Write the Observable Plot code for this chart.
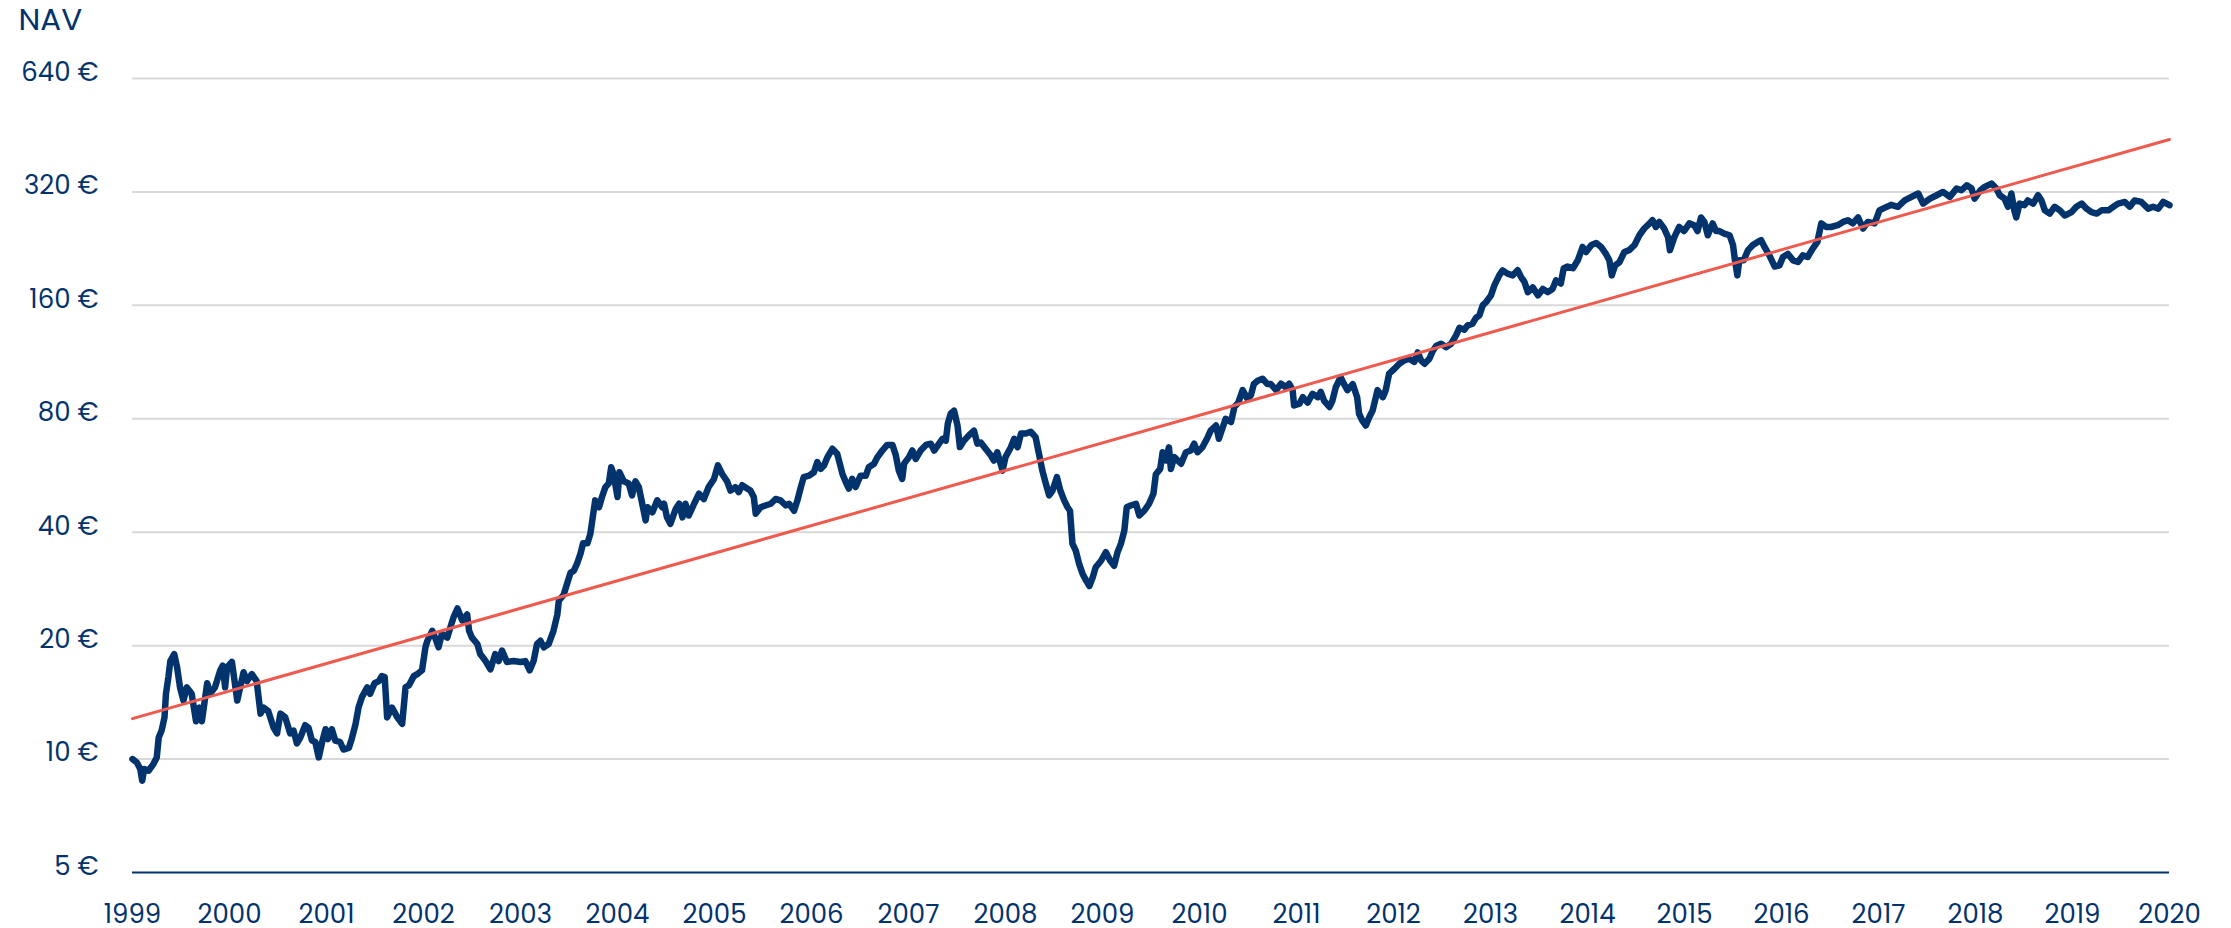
<!DOCTYPE html>
<html>
<head>
<meta charset="utf-8">
<script src="https://cdn.jsdelivr.net/npm/d3@7"></script>
<script src="https://cdn.jsdelivr.net/npm/@observablehq/plot@0.6"></script>
<style>
  html, body { margin: 0; padding: 0; background: #ffffff; }
  #chart { width: 2231px; height: 928px; }
</style>
</head>
<body>
<div id="chart"></div>
<script>
// ---- Data ----
const yTicks = [5, 10, 20, 40, 80, 160, 320, 640];
const xTicks = [1999, 2000, 2001, 2002, 2003, 2004, 2005, 2006, 2007, 2008, 2009, 2010,
                2011, 2012, 2013, 2014, 2015, 2016, 2017, 2018, 2019, 2020];
const axisTitle = "NAV";

// Trend line (start / end)
const trendYears = [1999, 2020];
const trendValues = [12.8, 441];

// NAV series: [decimal year, NAV in €]
const nav = [
[1999.000,10.0],[1999.045,9.79],[1999.080,9.41],[1999.100,8.76],[1999.120,9.41],[1999.165,9.31],[1999.215,9.70],[1999.250,10.1],[1999.270,11.4],[1999.300,11.9],
[1999.330,12.9],[1999.345,14.9],[1999.370,16.5],[1999.390,18.2],[1999.430,19.0],[1999.460,17.5],[1999.490,15.5],[1999.525,14.3],[1999.560,15.5],[1999.610,14.9],
[1999.655,12.6],[1999.690,13.7],[1999.715,12.6],[1999.770,15.9],[1999.800,14.9],[1999.850,15.5],[1999.905,17.2],[1999.930,17.7],[1999.955,15.5],[1999.975,17.5],
[2000.025,18.1],[2000.080,14.3],[2000.110,15.5],[2000.145,17.0],[2000.180,16.1],[2000.230,16.8],[2000.280,16.1],[2000.320,13.2],[2000.350,13.7],[2000.400,13.4],
[2000.455,12.1],[2000.490,11.7],[2000.525,13.2],[2000.575,12.9],[2000.625,11.7],[2000.660,11.9],[2000.695,11.0],[2000.730,11.4],[2000.780,12.3],[2000.815,12.1],
[2000.850,11.2],[2000.885,11.1],[2000.920,10.1],[2000.955,11.1],[2000.990,12.0],[2001.015,11.3],[2001.055,12.0],[2001.090,11.2],[2001.140,11.1],[2001.175,10.6],
[2001.230,10.7],[2001.260,11.3],[2001.300,12.4],[2001.330,13.7],[2001.365,14.6],[2001.420,15.5],[2001.450,14.9],[2001.495,15.9],[2001.540,16.1],[2001.570,16.6],
[2001.600,16.5],[2001.625,12.9],[2001.675,13.7],[2001.730,12.9],[2001.780,12.4],[2001.815,15.5],[2001.850,15.7],[2001.900,16.6],[2001.935,16.8],[2001.985,17.2],
[2002.020,19.8],[2002.040,20.6],[2002.090,21.9],[2002.120,21.0],[2002.155,19.8],[2002.190,21.5],[2002.245,21.0],[2002.280,22.5],[2002.310,23.8],[2002.350,25.1],
[2002.400,23.3],[2002.450,24.2],[2002.470,21.9],[2002.500,21.0],[2002.555,20.2],[2002.585,19.0],[2002.640,18.2],[2002.690,17.3],[2002.740,19.0],[2002.775,18.2],
[2002.810,19.4],[2002.860,18.1],[2002.930,18.2],[2003.000,18.1],[2003.050,18.2],[2003.095,17.2],[2003.135,18.2],[2003.170,20.2],[2003.205,20.6],[2003.240,19.8],
[2003.290,20.2],[2003.340,21.9],[2003.380,24.2],[2003.395,26.3],[2003.445,27.3],[2003.480,29.2],[2003.515,31.2],[2003.550,31.6],[2003.585,33.1],[2003.620,35.2],
[2003.645,37.4],[2003.690,37.4],[2003.720,39.6],[2003.750,44.8],[2003.770,48.6],[2003.810,46.6],[2003.840,49.6],[2003.875,52.7],[2003.910,53.9],[2003.935,59.5],
[2003.960,57.0],[2004.000,49.6],[2004.020,57.7],[2004.065,54.6],[2004.115,53.9],[2004.150,50.1],[2004.185,54.6],[2004.220,52.7],[2004.255,47.6],[2004.290,43.0],
[2004.310,46.6],[2004.360,45.2],[2004.410,48.6],[2004.460,46.6],[2004.480,47.6],[2004.510,43.8],[2004.545,42.1],[2004.600,46.1],[2004.635,47.6],[2004.670,43.8],
[2004.700,47.6],[2004.735,44.3],[2004.790,47.6],[2004.840,50.6],[2004.890,49.0],[2004.940,52.7],[2004.995,55.4],[2005.035,60.2],[2005.080,57.0],[2005.130,54.6],
[2005.165,51.6],[2005.215,52.7],[2005.250,51.1],[2005.285,53.3],[2005.340,52.2],[2005.370,51.6],[2005.405,49.6],[2005.425,44.8],[2005.475,46.6],[2005.525,47.1],
[2005.580,47.6],[2005.630,49.0],[2005.680,48.6],[2005.735,47.1],[2005.770,47.6],[2005.820,45.6],[2005.855,48.6],[2005.890,52.7],[2005.920,56.0],[2005.975,56.5],
[2006.025,57.7],[2006.060,61.4],[2006.095,58.9],[2006.130,60.2],[2006.165,63.3],[2006.215,66.6],[2006.265,64.6],[2006.320,57.0],[2006.350,54.6],[2006.385,52.2],
[2006.420,55.4],[2006.455,52.7],[2006.505,56.5],[2006.560,56.5],[2006.590,59.5],[2006.645,60.8],[2006.680,63.3],[2006.730,65.9],[2006.780,68.2],[2006.835,68.2],
[2006.870,63.9],[2006.900,58.3],[2006.935,55.4],[2006.955,60.8],[2007.005,63.3],[2007.040,65.9],[2007.075,62.6],[2007.125,65.9],[2007.180,68.2],[2007.230,68.7],
[2007.265,65.9],[2007.315,68.7],[2007.350,70.8],[2007.385,70.0],[2007.405,77.6],[2007.435,82.5],[2007.470,84.1],[2007.505,76.8],[2007.530,67.3],[2007.570,69.9],
[2007.625,72.4],[2007.675,74.4],[2007.710,68.7],[2007.745,69.2],[2007.795,66.6],[2007.850,63.9],[2007.880,62.0],[2007.915,65.2],[2007.970,58.3],[2008.000,63.3],
[2008.055,67.2],[2008.090,70.8],[2008.125,67.2],[2008.160,73.1],[2008.210,73.1],[2008.260,73.9],[2008.310,71.5],[2008.345,64.6],[2008.380,58.3],[2008.415,53.9],
[2008.450,50.1],[2008.485,51.6],[2008.530,56.0],[2008.565,51.6],[2008.605,48.6],[2008.640,46.6],[2008.665,45.6],[2008.690,37.3],[2008.725,35.7],[2008.760,32.9],
[2008.795,31.0],[2008.830,29.8],[2008.865,28.8],[2008.900,30.4],[2008.930,32.3],[2008.985,33.6],[2009.035,35.4],[2009.080,33.6],[2009.120,32.6],[2009.155,35.4],
[2009.190,37.3],[2009.225,40.4],[2009.250,46.6],[2009.290,47.1],[2009.345,47.6],[2009.380,44.3],[2009.430,45.6],[2009.480,47.6],[2009.525,50.6],[2009.550,57.0],
[2009.595,58.9],[2009.620,65.2],[2009.655,62.0],[2009.685,67.2],[2009.705,58.9],[2009.740,63.3],[2009.810,60.8],[2009.860,65.2],[2009.910,65.9],[2009.945,68.7],
[2009.980,65.2],[2010.030,67.2],[2010.085,71.5],[2010.115,74.4],[2010.170,76.8],[2010.200,70.8],[2010.240,76.0],[2010.270,80.0],[2010.325,78.4],[2010.360,86.0],
[2010.400,88.3],[2010.445,95.3],[2010.495,90.4],[2010.530,92.4],[2010.560,98.9],[2010.600,100.9],[2010.650,102.2],[2010.700,98.9],[2010.735,98.9],[2010.790,95.3],
[2010.840,99.1],[2010.890,97.0],[2010.925,99.1],[2010.960,95.3],[2010.975,86.8],[2011.030,87.7],[2011.065,91.3],[2011.115,88.3],[2011.165,93.2],[2011.220,91.3],
[2011.250,94.3],[2011.285,89.3],[2011.340,86.0],[2011.370,89.3],[2011.405,97.0],[2011.455,103.2],[2011.490,98.9],[2011.525,95.3],[2011.580,98.9],[2011.625,91.3],
[2011.645,82.5],[2011.680,79.0],[2011.715,76.8],[2011.750,80.8],[2011.785,84.1],[2011.835,95.3],[2011.890,91.3],[2011.920,95.3],[2011.955,105.4],[2012.010,108.6],
[2012.060,112.0],[2012.110,114.2],[2012.160,115.5],[2012.215,113.3],[2012.250,120.0],[2012.285,114.2],[2012.320,112.0],[2012.370,115.5],[2012.405,121.1],[2012.440,124.8],
[2012.490,126.6],[2012.540,123.9],[2012.595,126.6],[2012.645,133.2],[2012.680,139.5],[2012.730,137.9],[2012.765,141.6],[2012.815,143.0],[2012.850,148.2],[2012.885,150.5],
[2012.920,160.0],[2012.955,163.3],[2013.005,170.1],[2013.040,180.8],[2013.090,192.2],[2013.125,198.2],[2013.175,194.2],[2013.230,192.2],[2013.280,198.2],[2013.315,190.2],
[2013.350,184.6],[2013.385,173.5],[2013.435,178.6],[2013.490,170.1],[2013.540,176.9],[2013.590,173.5],[2013.640,176.9],[2013.675,186.4],[2013.725,182.9],[2013.755,200.8],
[2013.795,202.8],[2013.850,200.8],[2013.900,210.7],[2013.950,228.6],[2013.985,221.7],[2014.040,231.4],[2014.090,234.1],[2014.140,228.6],[2014.190,219.1],[2014.225,210.7],
[2014.250,192.2],[2014.285,204.4],[2014.330,208.5],[2014.380,221.7],[2014.430,224.2],[2014.485,231.4],[2014.535,245.6],[2014.585,255.9],[2014.640,264.0],[2014.670,269.2],
[2014.705,258.3],[2014.740,266.4],[2014.790,255.9],[2014.830,242.8],[2014.850,224.2],[2014.895,242.8],[2014.945,258.3],[2014.995,252.0],[2015.050,264.0],[2015.100,261.1],
[2015.135,252.0],[2015.170,273.8],[2015.205,266.4],[2015.240,245.6],[2015.290,264.0],[2015.325,252.0],[2015.360,252.0],[2015.410,248.1],[2015.465,245.6],[2015.500,231.4],
[2015.520,210.7],[2015.545,192.2],[2015.565,210.7],[2015.610,210.7],[2015.655,224.2],[2015.705,231.4],[2015.755,235.7],[2015.790,238.3],[2015.825,228.6],[2015.875,217.2],
[2015.930,202.8],[2015.980,204.4],[2016.015,215.0],[2016.065,219.1],[2016.120,210.7],[2016.170,208.5],[2016.220,217.2],[2016.270,215.0],[2016.320,226.0],[2016.370,235.7],
[2016.410,264.0],[2016.460,258.3],[2016.510,258.3],[2016.580,261.1],[2016.635,266.4],[2016.685,269.2],[2016.735,264.0],[2016.790,273.8],[2016.840,255.9],[2016.890,266.4],
[2016.960,264.0],[2017.010,285.9],[2017.045,288.9],[2017.130,295.7],[2017.200,292.2],[2017.270,303.7],[2017.340,310.4],[2017.410,316.9],[2017.460,298.0],[2017.530,307.1],
[2017.600,313.6],[2017.665,320.0],[2017.735,310.4],[2017.805,326.7],[2017.855,323.3],[2017.910,333.3],[2017.960,326.7],[2017.990,307.1],[2018.050,323.3],[2018.095,330.0],
[2018.165,336.8],[2018.215,326.7],[2018.250,313.6],[2018.300,307.1],[2018.335,292.2],[2018.370,316.9],[2018.400,285.9],[2018.420,273.8],[2018.455,298.0],[2018.505,295.1],
[2018.540,303.7],[2018.595,298.0],[2018.645,313.6],[2018.680,303.7],[2018.715,285.9],[2018.765,280.3],[2018.815,292.2],[2018.870,285.9],[2018.920,277.0],[2018.990,282.8],
[2019.040,292.2],[2019.095,298.0],[2019.145,288.9],[2019.195,282.8],[2019.250,280.3],[2019.300,285.9],[2019.370,285.9],[2019.420,292.2],[2019.470,298.0],[2019.540,301.0],
[2019.590,292.2],[2019.640,303.7],[2019.710,301.0],[2019.780,288.9],[2019.830,292.2],[2019.885,288.9],[2019.935,301.0],[2020.000,295.1]
];

// ---- Styles ----
const navy = "#03336c";
const red = "#ef5a4f";
const grid = "#d9d9d9";

const trend = trendYears.map((yr, i) => ({year: yr, value: trendValues[i]}));

const chart = Plot.plot({
  width: 2231,
  height: 928,
  marginLeft: 132,
  marginRight: 62,
  marginTop: 78,
  marginBottom: 56,
  style: {
    fontFamily: "Poppins, Inter, 'Noto Sans', sans-serif",
    fontSize: "26px",
    color: navy,
    background: "#ffffff",
    overflow: "visible"
  },
  x: {domain: [1999, 2020], label: null},
  y: {type: "log", base: 2, domain: [5, 640], label: null},
  marks: [
    Plot.ruleY(yTicks.slice(1), {stroke: grid, strokeWidth: 2}),
    Plot.ruleY([yTicks[0]], {stroke: navy, strokeWidth: 2}),
    Plot.line(nav, {
      x: d => d[0], y: d => d[1],
      stroke: navy, strokeWidth: 6.5,
      strokeLinejoin: "round", strokeLinecap: "round"
    }),
    Plot.line(trend, {x: "year", y: "value", stroke: red, strokeWidth: 3}),
    Plot.axisY({
      ticks: yTicks, tickFormat: d => `${d} €`,
      tickSize: 0, tickPadding: 34, dy: -6, label: null, fill: navy
    }),
    Plot.axisX({
      ticks: xTicks, tickFormat: d => String(d),
      tickSize: 0, tickPadding: 32, label: null, fill: navy
    }),
    Plot.text([axisTitle], {
      text: d => d, frameAnchor: "top-left", textAnchor: "start", lineAnchor: "middle",
      dx: -114, dy: -58, fontSize: 31, fill: navy
    })
  ]
});

document.getElementById("chart").appendChild(chart);
</script>
</body>
</html>
